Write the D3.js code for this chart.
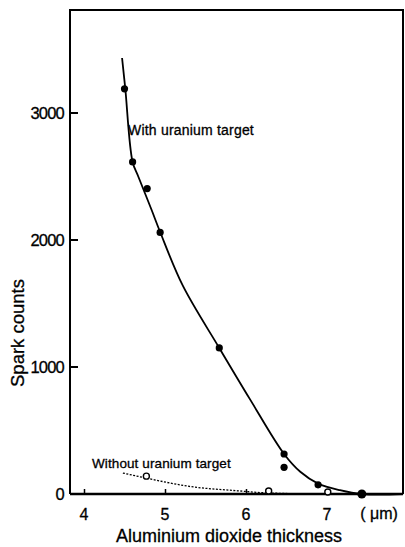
<!DOCTYPE html>
<html>
<head>
<meta charset="utf-8">
<title>Spark counts</title>
<style>
body { margin: 0; background: #fff; }
text { font-family: "Liberation Sans", Arial, sans-serif; fill: #000; stroke: #000; stroke-width: 0.3; }
</style>
<script src="https://cdn.jsdelivr.net/npm/d3@7"></script>
</head>
<body>
<script>
// measured points, with uranium target (filled dots)
var withX = [4.5, 4.6, 4.78, 4.94, 5.67, 6.47, 6.47, 6.89, 7.43];
var withY = [3190, 2615, 2405, 2060, 1150, 315, 210, 72, 0];
// hand-drawn fit curve through them
var curveX = [4.47, 4.51, 4.6, 4.67, 4.835, 4.94, 5.22, 5.67, 6.05, 6.47, 6.67, 6.89, 7.16, 7.43, 7.94];
var curveY = [3433, 3190, 2614, 2500, 2236, 2063, 1640, 1150, 745, 315, 175, 82, 30, 0, 0];
// without uranium target (open circles) and dotted line
var withoutX = [4.77, 6.28, 7.01];
var withoutY = [125, 8, 0];
var dotX = [4.48, 4.77, 5.3, 5.9, 6.28, 7.01, 7.5];
var dotY = [165, 125, 60, 25, 8, 0, 0];
var xTicks = [4, 5, 6, 7];
var yTicks = [0, 1000, 2000, 3000];

var W = 405, H = 547;
var svg = d3.select("body").append("svg").attr("width", W).attr("height", H);

var x = d3.scaleLinear().domain([4, 7]).range([84, 327]);
var y = d3.scaleLinear().domain([0, 3000]).range([494, 113]);
var fL = 70, fR = 403, fT = 10, fB = 494;

// frame
svg.append("path")
	.attr("d", "M" + fL + "," + fB + "V" + fT + "H" + fR + "V" + fB)
	.attr("fill", "none").attr("stroke", "#000").attr("stroke-width", 2);
svg.append("line")
	.attr("x1", fL).attr("x2", fR).attr("y1", fB).attr("y2", fB)
	.attr("stroke", "#000").attr("stroke-width", 2.5);

// y ticks, inside the frame
svg.selectAll(".ytick").data(yTicks.slice(1)).enter().append("line")
	.attr("x1", fL).attr("x2", fL + 8)
	.attr("y1", function(d) { return y(d); }).attr("y2", function(d) { return y(d); })
	.attr("stroke", "#000").attr("stroke-width", 2);
svg.selectAll(".ylab").data(yTicks).enter().append("text")
	.attr("x", fL - 6).attr("y", function(d) { return y(d) + 6; })
	.attr("text-anchor", "end").attr("font-size", 16.5).attr("letter-spacing", -0.8)
	.text(function(d) { return d; });

// x axis ticks, inside
var xAxis = svg.append("g").attr("transform", "translate(0," + fB + ")")
	.call(d3.axisTop(x).tickValues(xTicks).tickSize(5).tickFormat(""));
xAxis.select(".domain").remove();
xAxis.selectAll("line").attr("stroke", "#000").attr("stroke-width", 1.5);
svg.selectAll(".xlab").data(xTicks).enter().append("text")
	.attr("x", function(d) { return x(d); }).attr("y", 520)
	.attr("text-anchor", "middle").attr("font-size", 16)
	.text(function(d) { return d; });
svg.append("text").attr("x", 379).attr("y", 519).attr("text-anchor", "middle")
	.attr("font-size", 16).text("( μm)");

svg.append("text").attr("x", 229).attr("y", 542).attr("text-anchor", "middle")
	.attr("font-size", 18).text("Aluminium dioxide  thickness");
svg.append("text").attr("transform", "translate(24,333) rotate(-90)")
	.attr("text-anchor", "middle").attr("font-size", 18.5).text("Spark counts");

// curves
var line = d3.line().curve(d3.curveCatmullRom.alpha(0.5))
	.x(function(d) { return x(d[0]); }).y(function(d) { return y(d[1]); });
svg.append("path").datum(d3.zip(curveX, curveY)).attr("d", line)
	.attr("fill", "none").attr("stroke", "#000").attr("stroke-width", 1.8);
svg.append("path").datum(d3.zip(dotX, dotY)).attr("d", line.curve(d3.curveMonotoneX))
	.attr("fill", "none").attr("stroke", "#000").attr("stroke-width", 1.3)
	.attr("stroke-dasharray", "2,1.5");

// points
svg.selectAll(".fill").data(d3.zip(withX, withY)).enter().append("circle")
	.attr("cx", function(d) { return x(d[0]); }).attr("cy", function(d) { return y(d[1]); })
	.attr("r", function(d, i) { return i === withX.length - 1 ? 4.5 : 3.6; })
	.attr("fill", "#000");
svg.selectAll(".open").data(d3.zip(withoutX, withoutY)).enter().append("circle")
	.attr("cx", function(d) { return x(d[0]); }).attr("cy", function(d) { return y(d[1]) - 2; })
	.attr("r", 3).attr("fill", "#fff").attr("stroke", "#000").attr("stroke-width", 1.4);

// labels
svg.append("text").attr("x", 128).attr("y", 135).attr("font-size", 14)
	.attr("letter-spacing", 0.2).text("With uranium target");
svg.append("text").attr("x", 92).attr("y", 468).attr("font-size", 13.5)
	.attr("letter-spacing", 0.1).text("Without uranium target");
</script>
</body>
</html>
